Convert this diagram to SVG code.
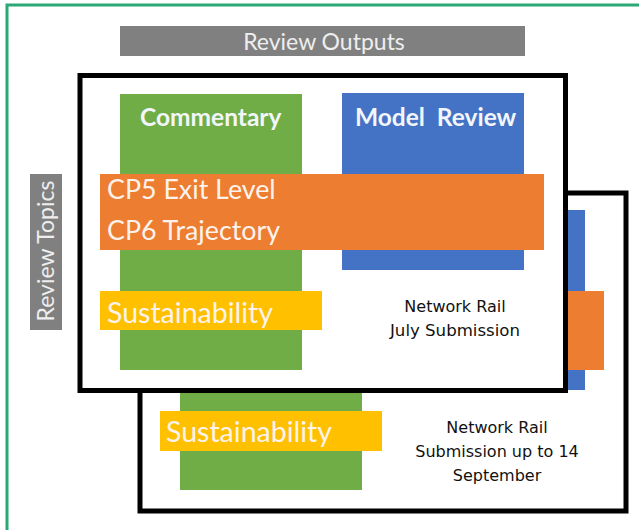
<svg xmlns="http://www.w3.org/2000/svg" width="639" height="530" viewBox="0 0 639 530">
  <style>
    .frame { fill: #ffffff; stroke: #000000; stroke-width: 5; }
    .green { fill: #70ad47; }
    .blue { fill: #4472c4; }
    .orange { fill: #ed7d31; }
    .yellow { fill: #ffc000; }
    .grey { fill: #808080; }
    .topic { font-family: Lato, "Open Sans", sans-serif; font-size: 26.8px; fill: #fdf3ec; }
    .sus { font-size: 28.5px; }
    .head { font-family: Lato, "Open Sans", sans-serif; font-size: 24.5px; font-weight: bold; fill: #f2f6fb; }
    .label { font-family: Lato, "Open Sans", sans-serif; font-size: 23px; fill: #eeeeee; }
    .note { font-family: "DejaVu Sans", sans-serif; font-size: 16px; fill: #111111; text-anchor: middle; }
  </style>

  <rect x="0" y="0" width="639" height="530" fill="#ffffff"/>
  <!-- outer border -->
  <rect x="7" y="5" width="660" height="560" fill="none" stroke="#2aa876" stroke-width="3"/>

  <!-- header bars -->
  <g id="review-outputs">
    <rect class="grey" x="120" y="26" width="405" height="30"/>
    <text class="label" x="324" y="50" text-anchor="middle">Review Outputs</text>
  </g>
  <g id="review-topics">
    <rect class="grey" x="30" y="174" width="32" height="156"/>
    <text class="label" transform="translate(54 251) rotate(-90)" text-anchor="middle">Review Topics</text>
  </g>

  <!-- September submission (rear sheet) -->
  <g id="september-submission">
    <rect class="frame" x="140" y="193" width="486" height="318"/>
    <rect class="green" x="180" y="300" width="182" height="190"/>
    <rect class="blue" x="400" y="210" width="185" height="180"/>
    <rect class="orange" x="160" y="291" width="444" height="79"/>
    <rect class="yellow" x="160" y="411" width="222" height="40"/>
    <text class="topic sus" x="166" y="442">Sustainability</text>
    <text class="note" x="497" y="433">Network Rail</text>
    <text class="note" x="497" y="457">Submission up to 14</text>
    <text class="note" x="497" y="481">September</text>
  </g>

  <!-- July submission (front sheet) -->
  <g id="july-submission">
    <rect class="frame" x="80" y="75.5" width="485.5" height="315"/>
    <rect class="green" x="120" y="94" width="182" height="276"/>
    <rect class="blue" x="342" y="93" width="182" height="177"/>
    <text class="head" x="140" y="126">Commentary</text>
    <text class="head" x="355" y="126" xml:space="preserve">Model  Review</text>
    <rect class="orange" x="100" y="174" width="444" height="76"/>
    <text class="topic" x="107" y="199">CP5 Exit Level</text>
    <text class="topic" x="107" y="240">CP6 Trajectory</text>
    <rect class="yellow" x="100" y="291" width="222" height="39"/>
    <text class="topic sus" x="107" y="323">Sustainability</text>
    <text class="note" x="455" y="312">Network Rail</text>
    <text class="note" x="455" y="336" style="font-size:16.6px">July Submission</text>
  </g>

  <g id="connectors"/>
</svg>
